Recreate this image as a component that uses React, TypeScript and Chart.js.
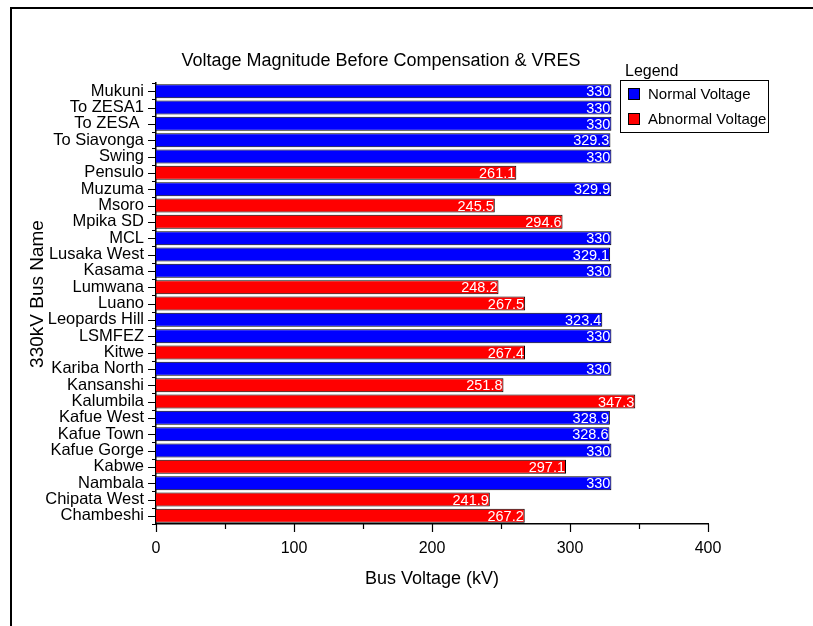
import React, { useEffect, useRef } from "react";
import { Chart, registerables } from "chart.js";

Chart.register(...registerables);

const busNames = [
  "Mukuni", "To ZESA1", "To ZESA ", "To Siavonga", "Swing", "Pensulo", "Muzuma",
  "Msoro", "Mpika SD", "MCL", "Lusaka West", "Kasama", "Lumwana", "Luano",
  "Leopards Hill", "LSMFEZ", "Kitwe", "Kariba North", "Kansanshi", "Kalumbila",
  "Kafue West", "Kafue Town", "Kafue Gorge", "Kabwe", "Nambala", "Chipata West", "Chambeshi",
];

const busVoltage = [
  330, 330, 330, 329.3, 330, 261.1, 329.9,
  245.5, 294.6, 330, 329.1, 330, 248.2, 267.5,
  323.4, 330, 267.4, 330, 251.8, 347.3,
  328.9, 328.6, 330, 297.1, 330, 241.9, 267.2,
];

// true = abnormal (red), false = normal (blue)
const isAbnormal = [
  false, false, false, false, false, true, false,
  true, true, false, false, false, true, true,
  false, false, true, false, true, true,
  false, false, false, true, false, true, true,
];

const xTickValues = [0, 100, 200, 300, 400];
const seriesNames = ["Normal Voltage", "Abnormal Voltage"];
const titleText = "Voltage Magnitude Before Compensation & VRES";
const xTitle = "Bus Voltage (kV)";
const yTitle = "330kV Bus Name";
const legendTitle = "Legend";

const FONT = "'Liberation Sans', Arial, sans-serif";
const BLUE = "#0000FF";
const RED = "#FF0000";

const normalData = busVoltage.map((v, i) => (isAbnormal[i] ? null : v));
const abnormalData = busVoltage.map((v, i) => (isAbnormal[i] ? v : null));

const decorPlugin = {
  id: "decor",
  afterDraw(chart: any) {
    const ctx = chart.ctx as CanvasRenderingContext2D;
    const area = chart.chartArea;
    const xs = chart.scales.x;
    const ys = chart.scales.y;
    ctx.save();

    // outer frame (top and left)
    ctx.strokeStyle = "#000";
    ctx.lineWidth = 2;
    ctx.beginPath();
    ctx.moveTo(10, 8);
    ctx.lineTo(813, 8);
    ctx.moveTo(11, 8);
    ctx.lineTo(11, 626);
    ctx.stroke();

    // x ticks
    ctx.lineWidth = 1.2;
    ctx.beginPath();
    for (let v = 0; v <= 400; v += 50) {
      const px = Math.round(xs.getPixelForValue(v)) + 0.5;
      const len = v % 100 === 0 ? 8 : 5;
      ctx.moveTo(px, area.bottom);
      ctx.lineTo(px, area.bottom + len);
    }
    // y ticks
    const n = busNames.length;
    const step = (area.bottom - area.top) / n;
    for (let i = 0; i < n; i++) {
      const py = Math.round(ys.getPixelForValue(i)) + 0.5;
      ctx.moveTo(area.left, py);
      ctx.lineTo(area.left - 8, py);
    }
    for (let i = 0; i <= n; i++) {
      const py = Math.round(area.top + i * step) + 0.5;
      ctx.moveTo(area.left, py);
      ctx.lineTo(area.left - 4, py);
    }
    ctx.stroke();

    // data labels
    ctx.fillStyle = "#fff";
    ctx.font = `14.5px ${FONT}`;
    ctx.textAlign = "right";
    ctx.textBaseline = "middle";
    chart.data.datasets.forEach((ds: any, di: number) => {
      const meta = chart.getDatasetMeta(di);
      meta.data.forEach((bar: any, i: number) => {
        const v = ds.data[i];
        if (v === null || v === undefined) return;
        ctx.fillText(String(v), bar.x - 1, bar.y + 1);
      });
    });

    // title
    ctx.fillStyle = "#000";
    ctx.font = `18px ${FONT}`;
    ctx.textAlign = "center";
    ctx.textBaseline = "alphabetic";
    ctx.fillText(titleText, 381, 66);

    // x title
    ctx.fillText(xTitle, (area.left + area.right) / 2, 584);

    // y title
    ctx.save();
    ctx.font = `19px ${FONT}`;
    ctx.translate(43, 294);
    ctx.rotate(-Math.PI / 2);
    ctx.textAlign = "center";
    ctx.textBaseline = "alphabetic";
    ctx.fillText(yTitle, 0, 0);
    ctx.restore();

    // legend
    ctx.font = `16px ${FONT}`;
    ctx.textAlign = "left";
    ctx.fillText(legendTitle, 625, 76);
    ctx.lineWidth = 1;
    ctx.strokeStyle = "#000";
    ctx.strokeRect(620.5, 80.5, 148, 52);
    const colors = [BLUE, RED];
    const ys2 = [88, 113];
    ctx.font = `15px ${FONT}`;
    ctx.textBaseline = "middle";
    for (let k = 0; k < 2; k++) {
      ctx.fillStyle = colors[k];
      ctx.fillRect(628.5, ys2[k] + 0.5, 11, 11);
      ctx.strokeRect(628.5, ys2[k] + 0.5, 11, 11);
      ctx.fillStyle = "#000";
      ctx.fillText(seriesNames[k], 648, ys2[k] + 7);
    }
    ctx.restore();
  },
};

export default function App() {
  const ref = useRef<HTMLCanvasElement>(null);
  useEffect(() => {
    document.body.style.margin = "0";
    const canvas = ref.current!;
    const chart = new Chart(canvas, {
      type: "bar",
      data: {
        labels: busNames,
        datasets: [
          {
            label: seriesNames[0],
            data: normalData,
            backgroundColor: BLUE,
            borderColor: "#000",
            borderWidth: 1,
            grouped: false,
            barPercentage: 0.86,
            categoryPercentage: 1,
          } as any,
          {
            label: seriesNames[1],
            data: abnormalData,
            backgroundColor: RED,
            borderColor: "#000",
            borderWidth: 1,
            grouped: false,
            barPercentage: 0.86,
            categoryPercentage: 1,
          } as any,
        ],
      },
      options: {
        indexAxis: "y",
        responsive: false,
        animation: false,
        maintainAspectRatio: false,
        layout: { padding: { top: 83, right: 105, left: 0, bottom: 0 } },
        plugins: {
          legend: { display: false },
          title: { display: false },
          tooltip: { enabled: false },
        },
        scales: {
          x: {
            type: "linear",
            min: 0,
            max: 400,
            afterBuildTicks(scale: any) {
              scale.ticks = xTickValues.map((v) => ({ value: v }));
            },
            afterFit(scale: any) {
              scale.height = 102;
            },
            ticks: {
              color: "#000",
              font: { family: FONT, size: 16 },
              padding: 15,
              maxRotation: 0,
            },
            grid: { display: false, drawTicks: false },
            border: { display: true, color: "#000", width: 1.5 },
          },
          y: {
            type: "category",
            afterFit(scale: any) {
              scale.width = 156;
            },
            ticks: {
              color: "#000",
              font: { family: FONT, size: 16.5 },
              padding: 12,
              autoSkip: false,
            },
            grid: { display: false, drawTicks: false },
            border: { display: true, color: "#000", width: 1.5 },
          },
        },
      } as any,
      plugins: [decorPlugin],
    });
    return () => chart.destroy();
  }, []);
  return <canvas ref={ref} width={813} height={626} style={{ display: "block" }} />;
}
